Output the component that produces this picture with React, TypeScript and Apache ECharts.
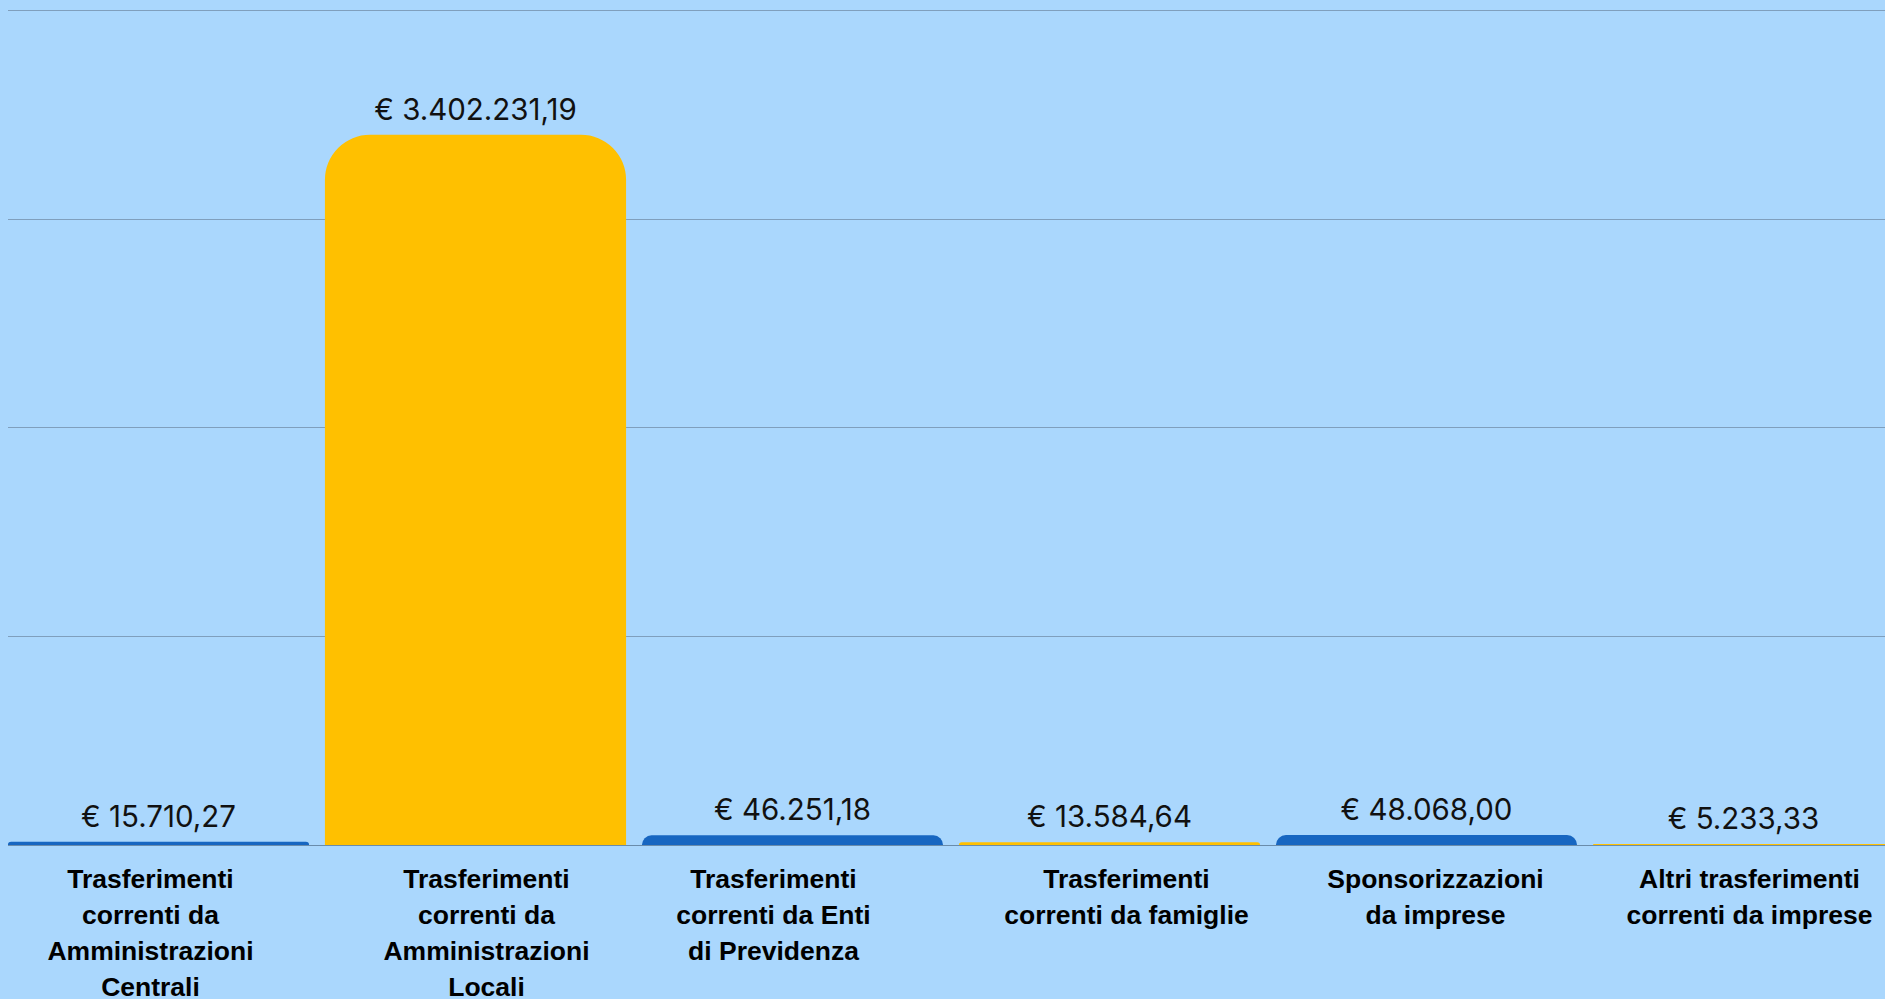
import React, { useEffect, useRef } from "react";
import * as echarts from "echarts";

const categories = [
  "Trasferimenti\ncorrenti da\nAmministrazioni\nCentrali",
  "Trasferimenti\ncorrenti da\nAmministrazioni\nLocali",
  "Trasferimenti\ncorrenti da Enti\ndi Previdenza",
  "Trasferimenti\ncorrenti da famiglie",
  "Sponsorizzazioni\nda imprese",
  "Altri trasferimenti\ncorrenti da imprese",
];

const values = [15710.27, 3402231.19, 46251.18, 13584.64, 48068.0, 5233.33];

const yMin = 0;
const yMax = 4000000;
const yInterval = 1000000;

// horizontal nudge of each category label (px)
const labelShift = [-8, 11, -19, 17, 9, 6];

const BG = "#AAD7FD";
const BLUE = "#1766C1";
const YELLOW = "#FFC000";

function formatEuro(v: number): string {
  const fixed = v.toFixed(2);
  const [intPart, dec] = fixed.split(".");
  const grouped = intPart.replace(/\B(?=(\d{3})+(?!\d))/g, ".");
  return "€ " + grouped + "," + dec;
}

const catFont = {
  fontFamily: "Liberation Sans",
  fontWeight: "bold" as const,
  fontSize: 26.5,
  lineHeight: 36,
  color: "#000",
};

const rich: Record<string, any> = {};
labelShift.forEach((dx, i) => {
  rich["c" + i] = {
    ...catFont,
    padding: dx >= 0 ? [0, 0, 0, 2 * dx] : [0, -2 * dx, 0, 0],
  };
});

export default function App() {
  const ref = useRef<HTMLDivElement>(null);

  useEffect(() => {
    document.body.style.margin = "0";
    document.body.style.background = BG;
    document.body.style.overflow = "hidden";
    if (!ref.current) return;
    const chart = echarts.init(ref.current, undefined, { renderer: "svg" });
    chart.setOption({
      animation: false,
      backgroundColor: BG,
      grid: {
        left: 0,
        top: 10,
        width: 1902,
        bottom: 154,
        containLabel: false,
        outerBoundsMode: "none",
      },
      xAxis: {
        type: "category",
        data: categories,
        axisTick: { show: false },
        axisLine: { lineStyle: { color: "#6a8cab", width: 1 } },
        axisLabel: {
          interval: 0,
          margin: 16,
          ...catFont,
          align: "center",
          formatter: (value: string, index: number) =>
            value
              .split("\n")
              .map((line) => "{c" + index + "|" + line + "}")
              .join("\n"),
          rich,
        },
      },
      yAxis: {
        type: "value",
        min: yMin,
        max: yMax,
        interval: yInterval,
        axisLabel: { show: false },
        axisLine: { show: false },
        axisTick: { show: false },
        splitLine: { lineStyle: { color: "#7f9fbd", width: 1 } },
      },
      graphic: [
        {
          type: "rect",
          z: 1,
          shape: { x: 0, y: 0, width: 8, height: 850 },
          style: { fill: BG },
        },
      ],
      series: [
        {
          type: "bar",
          barCategoryGap: "5%",
          data: values.map((v, i) => ({
            value: v,
            itemStyle: { color: i % 2 === 0 ? BLUE : YELLOW },
          })),
          itemStyle: { borderRadius: [45, 45, 0, 0] },
          label: {
            show: true,
            position: "top",
            distance: 11,
            fontFamily: "Inter",
            fontSize: 29.5,
            color: "#111",
            formatter: (p: any) => formatEuro(p.value),
          },
        },
      ],
    });
    return () => chart.dispose();
  }, []);

  return <div ref={ref} style={{ width: 1885, height: 999, background: BG }} />;
}
